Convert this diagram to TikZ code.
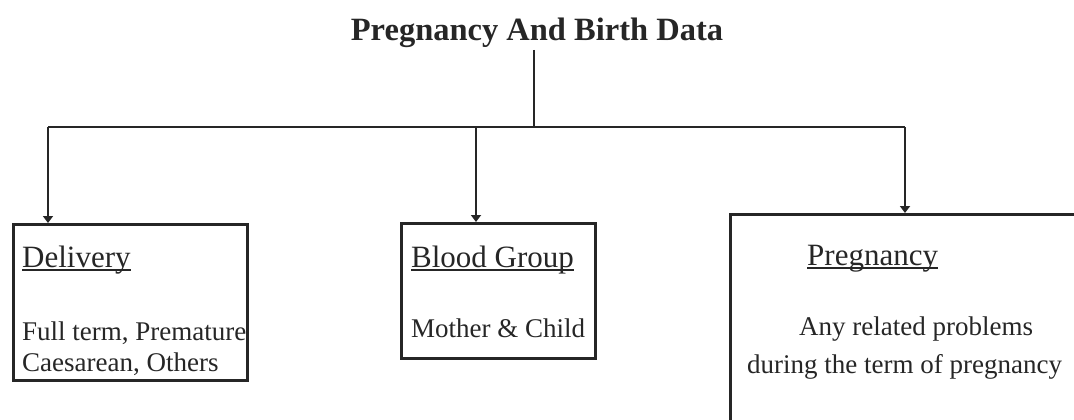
\documentclass[tikz,border=0pt]{standalone}
\usepackage{fontspec}
\setmainfont{Liberation Serif}
\usetikzlibrary{arrows.meta,calc}

\tikzset{
  box/.style={draw=black!85, line width=2.6pt, anchor=north west, inner sep=0pt},
  conn/.style={draw=black!85, line width=2.4pt},
  arr/.style={conn, -{Triangle[length=7pt,width=10pt]}},
  head/.style={anchor=base west, inner sep=0pt, font=\fontsize{31}{31}\selectfont, text=black!85},
  body/.style={anchor=base west, inner sep=0pt, font=\fontsize{27}{27}\selectfont, text=black!85},
  ul/.style={draw=black!85, line width=1.6pt},
}

\begin{document}
\begin{tikzpicture}[x=1pt, y=-1pt]
\useasboundingbox (0,0) rectangle (1074,420);
\clip (0,0) rectangle (1074,420);

% title and bus
\node[anchor=base, inner sep=0pt, font=\fontsize{32.5}{32.5}\selectfont\bfseries, text=black!85] (title) at (537,41) {Pregnancy And Birth Data};
\coordinate (top) at (534,50);
\coordinate (hub) at (534,127);
\coordinate (jl) at (48,127);
\coordinate (jm) at (476,127);
\coordinate (jr) at (905,127);

% boxes
\node[box, minimum width=234pt, minimum height=156pt] (delivery) at (12,223) {};
\node[box, minimum width=194pt, minimum height=135pt] (blood) at (400,222) {};
\node[box, minimum width=380pt, minimum height=240pt] (preg) at (729,213) {};

% connectors
\draw[conn] (top) -- (hub);
\draw[conn] (jl) -- (jr);
\draw[arr] (jl) -- (jl |- delivery.north);
\draw[arr] (jm) -- (jm |- blood.north);
\draw[arr] (jr) -- (jr |- preg.north);

% delivery texts
\node[head] (h1) at (22,267) {Delivery};
\draw[ul] ([yshift=-3pt]h1.base west) -- ([yshift=-3pt]h1.base east);
\node[body] (d1) at (22,340) {Full term, Premature};
\node[body] (d2) at (22,371) {Caesarean, Others};

% blood group texts
\node[head] (h2) at (411,267) {Blood Group};
\draw[ul] ([yshift=-3pt]h2.base west) -- ([yshift=-3pt]h2.base east);
\node[body] (b1) at (411,337) {Mother \& Child};

% pregnancy texts
\node[head] (h3) at (807,265) {Pregnancy};
\draw[ul] ([yshift=-3pt]h3.base west) -- ([yshift=-3pt]h3.base east);
\node[body] (p1) at (799,335) {Any related problems};
\node[body] (p2) at (747,373) {during the term of pregnancy};
\end{tikzpicture}
\end{document}
